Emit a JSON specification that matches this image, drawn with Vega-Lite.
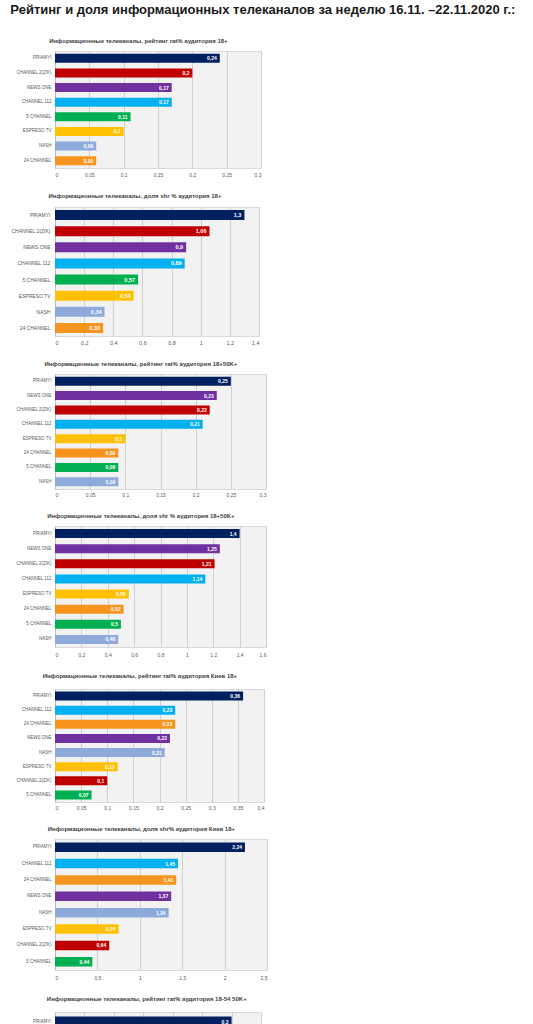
{
  "$schema": "https://vega.github.io/schema/vega-lite/v6.json",
  "background": "white",
  "padding": {"left": 10, "top": 3, "right": 5, "bottom": 5},
  "title": {
    "text": "Рейтинг и доля информационных телеканалов за неделю 16.11. –22.11.2020 г.:",
    "font": "Liberation Sans",
    "fontSize": 13,
    "fontWeight": "bold",
    "color": "#1a1a1a",
    "anchor": "start",
    "offset": 21
  },
  "datasets": {
    "p1": [
      {"channel": "PRIAMYI", "value": 0.24},
      {"channel": "CHANNEL 2(ZIK)", "value": 0.2},
      {"channel": "NEWS ONE", "value": 0.17},
      {"channel": "CHANNEL 112", "value": 0.17},
      {"channel": "5 CHANNEL", "value": 0.11},
      {"channel": "ESPRESO TV", "value": 0.1},
      {"channel": "NASH", "value": 0.06},
      {"channel": "24 CHANNEL", "value": 0.06}
    ],
    "p2": [
      {"channel": "PRIAMYI", "value": 1.3},
      {"channel": "CHANNEL 2(ZIK)", "value": 1.06},
      {"channel": "NEWS ONE", "value": 0.9},
      {"channel": "CHANNEL 112", "value": 0.89},
      {"channel": "5 CHANNEL", "value": 0.57},
      {"channel": "ESPRESO TV", "value": 0.54},
      {"channel": "NASH", "value": 0.34},
      {"channel": "24 CHANNEL", "value": 0.33}
    ],
    "p3": [
      {"channel": "PRIAMYI", "value": 0.25},
      {"channel": "NEWS ONE", "value": 0.23},
      {"channel": "CHANNEL 2(ZIK)", "value": 0.22},
      {"channel": "CHANNEL 112", "value": 0.21},
      {"channel": "ESPRESO TV", "value": 0.1},
      {"channel": "24 CHANNEL", "value": 0.09},
      {"channel": "5 CHANNEL", "value": 0.09},
      {"channel": "NASH", "value": 0.09}
    ],
    "p4": [
      {"channel": "PRIAMYI", "value": 1.4},
      {"channel": "NEWS ONE", "value": 1.25},
      {"channel": "CHANNEL 2(ZIK)", "value": 1.21},
      {"channel": "CHANNEL 112", "value": 1.14},
      {"channel": "ESPRESO TV", "value": 0.56},
      {"channel": "24 CHANNEL", "value": 0.52},
      {"channel": "5 CHANNEL", "value": 0.5},
      {"channel": "NASH", "value": 0.48}
    ],
    "p5": [
      {"channel": "PRIAMYI", "value": 0.36},
      {"channel": "CHANNEL 112", "value": 0.23},
      {"channel": "24 CHANNEL", "value": 0.23},
      {"channel": "NEWS ONE", "value": 0.22},
      {"channel": "NASH", "value": 0.21},
      {"channel": "ESPRESO TV", "value": 0.12},
      {"channel": "CHANNEL 2(ZIK)", "value": 0.1},
      {"channel": "5 CHANNEL", "value": 0.07}
    ],
    "p6": [
      {"channel": "PRIAMYI", "value": 2.24},
      {"channel": "CHANNEL 112", "value": 1.45},
      {"channel": "24 CHANNEL", "value": 1.43},
      {"channel": "NEWS ONE", "value": 1.37},
      {"channel": "NASH", "value": 1.34},
      {"channel": "ESPRESO TV", "value": 0.75},
      {"channel": "CHANNEL 2(ZIK)", "value": 0.64},
      {"channel": "5 CHANNEL", "value": 0.44}
    ],
    "p7": [
      {"channel": "PRIAMYI", "value": 0.3}
    ]
  },
  "columns": 1,
  "align": "none",
  "spacing": 14,
  "concat": [
    {
      "title": {"text": "Информационные телеканалы, рейтинг rat% аудитория 18+", "offset": 7},
      "width": 206,
      "height": 117,
      "data": {"name": "p1"},
      "encoding": {
        "y": {"field": "channel", "type": "nominal", "sort": null, "scale": {"paddingInner": 0.38, "paddingOuter": 0.19}},
        "x": {"field": "value", "type": "quantitative", "scale": {"domain": [0, 0.3]}, "axis": {"values": [0, 0.05, 0.1, 0.15, 0.2, 0.25, 0.3]}}
      },
      "layer": [
        {"mark": "bar", "encoding": {"color": {"field": "channel", "type": "nominal", "legend": null, "scale": {"domain": ["PRIAMYI", "CHANNEL 2(ZIK)", "NEWS ONE", "CHANNEL 112", "5 CHANNEL", "ESPRESO TV", "NASH", "24 CHANNEL"], "range": ["#002060", "#c00000", "#7030a0", "#00b0f0", "#00b050", "#ffc000", "#8eaadb", "#f7941d"]}}}},
        {"mark": {"type": "text", "align": "right", "dx": -3, "color": "white", "fontWeight": "bold", "fontSize": 5}, "encoding": {"text": {"field": "value", "type": "quantitative", "format": "~g"}}}
      ]
    },
    {
      "title": {"text": "Информационные телеканалы, доля shr % аудитория 18+", "offset": 8},
      "width": 204,
      "height": 129,
      "data": {"name": "p2"},
      "encoding": {
        "y": {"field": "channel", "type": "nominal", "sort": null, "scale": {"paddingInner": 0.38, "paddingOuter": 0.19}, "axis": {"labelFontSize": 5, "labelPadding": 5}},
        "x": {"field": "value", "type": "quantitative", "scale": {"domain": [0, 1.4]}, "axis": {"values": [0, 0.2, 0.4, 0.6, 0.8, 1, 1.2, 1.4], "labelFontSize": 5.5}}
      },
      "layer": [
        {"mark": "bar", "encoding": {"color": {"field": "channel", "type": "nominal", "legend": null, "scale": {"domain": ["PRIAMYI", "CHANNEL 2(ZIK)", "NEWS ONE", "CHANNEL 112", "5 CHANNEL", "ESPRESO TV", "NASH", "24 CHANNEL"], "range": ["#002060", "#c00000", "#7030a0", "#00b0f0", "#00b050", "#ffc000", "#8eaadb", "#f7941d"]}}}},
        {"mark": {"type": "text", "align": "right", "dx": -3, "color": "white", "fontWeight": "bold", "fontSize": 5.5}, "encoding": {"text": {"field": "value", "type": "quantitative", "format": "~g"}}}
      ]
    },
    {
      "title": {"text": "Информационные телеканалы, рейтинг rat% аудитория 18+50K+", "offset": 7},
      "width": 211,
      "height": 115,
      "data": {"name": "p3"},
      "encoding": {
        "y": {"field": "channel", "type": "nominal", "sort": null, "scale": {"paddingInner": 0.375, "paddingOuter": 0.19}},
        "x": {"field": "value", "type": "quantitative", "scale": {"domain": [0, 0.3]}, "axis": {"values": [0, 0.05, 0.1, 0.15, 0.2, 0.25, 0.3], "labelPadding": 3}}
      },
      "layer": [
        {"mark": "bar", "encoding": {"color": {"field": "channel", "type": "nominal", "legend": null, "scale": {"domain": ["PRIAMYI", "CHANNEL 2(ZIK)", "NEWS ONE", "CHANNEL 112", "5 CHANNEL", "ESPRESO TV", "NASH", "24 CHANNEL"], "range": ["#002060", "#c00000", "#7030a0", "#00b0f0", "#00b050", "#ffc000", "#8eaadb", "#f7941d"]}}}},
        {"mark": {"type": "text", "align": "right", "dx": -3, "color": "white", "fontWeight": "bold", "fontSize": 5}, "encoding": {"text": {"field": "value", "type": "quantitative", "format": "~g"}}}
      ]
    },
    {
      "title": {"text": "Информационные телеканалы, доля shr % аудитория 18+50K+", "offset": 7},
      "width": 211,
      "height": 121,
      "data": {"name": "p4"},
      "encoding": {
        "y": {"field": "channel", "type": "nominal", "sort": null, "scale": {"paddingInner": 0.4, "paddingOuter": 0.2}},
        "x": {"field": "value", "type": "quantitative", "scale": {"domain": [0, 1.6]}, "axis": {"values": [0, 0.2, 0.4, 0.6, 0.8, 1, 1.2, 1.4, 1.6], "labelPadding": 5}}
      },
      "layer": [
        {"mark": "bar", "encoding": {"color": {"field": "channel", "type": "nominal", "legend": null, "scale": {"domain": ["PRIAMYI", "CHANNEL 2(ZIK)", "NEWS ONE", "CHANNEL 112", "5 CHANNEL", "ESPRESO TV", "NASH", "24 CHANNEL"], "range": ["#002060", "#c00000", "#7030a0", "#00b0f0", "#00b050", "#ffc000", "#8eaadb", "#f7941d"]}}}},
        {"mark": {"type": "text", "align": "right", "dx": -3, "color": "white", "fontWeight": "bold", "fontSize": 5}, "encoding": {"text": {"field": "value", "type": "quantitative", "format": "~g"}}}
      ]
    },
    {
      "title": {"text": "Информационные телеканалы, рейтинг rat% аудитория Киев 18+", "offset": 10},
      "width": 209,
      "height": 113,
      "data": {"name": "p5"},
      "encoding": {
        "y": {"field": "channel", "type": "nominal", "sort": null, "scale": {"paddingInner": 0.37, "paddingOuter": 0.185}},
        "x": {"field": "value", "type": "quantitative", "scale": {"domain": [0, 0.4]}, "axis": {"values": [0, 0.05, 0.1, 0.15, 0.2, 0.25, 0.3, 0.35, 0.4], "labelPadding": 3}}
      },
      "layer": [
        {"mark": "bar", "encoding": {"color": {"field": "channel", "type": "nominal", "legend": null, "scale": {"domain": ["PRIAMYI", "CHANNEL 2(ZIK)", "NEWS ONE", "CHANNEL 112", "5 CHANNEL", "ESPRESO TV", "NASH", "24 CHANNEL"], "range": ["#002060", "#c00000", "#7030a0", "#00b0f0", "#00b050", "#ffc000", "#8eaadb", "#f7941d"]}}}},
        {"mark": {"type": "text", "align": "right", "dx": -3, "color": "white", "fontWeight": "bold", "fontSize": 5}, "encoding": {"text": {"field": "value", "type": "quantitative", "format": "~g"}}}
      ]
    },
    {
      "title": {"text": "Информационные телеканалы, доля shr% аудитория Киев 18+", "offset": 7},
      "width": 212,
      "height": 131,
      "data": {"name": "p6"},
      "encoding": {
        "y": {"field": "channel", "type": "nominal", "sort": null, "scale": {"paddingInner": 0.42, "paddingOuter": 0.21}},
        "x": {"field": "value", "type": "quantitative", "scale": {"domain": [0, 2.5]}, "axis": {"values": [0, 0.5, 1, 1.5, 2, 2.5], "labelPadding": 5}}
      },
      "layer": [
        {"mark": "bar", "encoding": {"color": {"field": "channel", "type": "nominal", "legend": null, "scale": {"domain": ["PRIAMYI", "CHANNEL 2(ZIK)", "NEWS ONE", "CHANNEL 112", "5 CHANNEL", "ESPRESO TV", "NASH", "24 CHANNEL"], "range": ["#002060", "#c00000", "#7030a0", "#00b0f0", "#00b050", "#ffc000", "#8eaadb", "#f7941d"]}}}},
        {"mark": {"type": "text", "align": "right", "dx": -3, "color": "white", "fontWeight": "bold", "fontSize": 5}, "encoding": {"text": {"field": "value", "type": "quantitative", "format": "~g"}}}
      ]
    },
    {
      "title": {"text": "Информационные телеканалы, рейтинг rat% аудитория 18-54 50K+", "offset": 10},
      "width": 206,
      "height": 19,
      "data": {"name": "p7"},
      "encoding": {
        "y": {"field": "channel", "type": "nominal", "sort": null, "scale": {"paddingInner": 0.5, "paddingOuter": 0.225}},
        "x": {"field": "value", "type": "quantitative", "scale": {"domain": [0, 0.35]}, "axis": {"values": [0, 0.05, 0.1, 0.15, 0.2, 0.25, 0.3, 0.35], "labels": false}}
      },
      "layer": [
        {"mark": "bar", "encoding": {"color": {"field": "channel", "type": "nominal", "legend": null, "scale": {"domain": ["PRIAMYI", "CHANNEL 2(ZIK)", "NEWS ONE", "CHANNEL 112", "5 CHANNEL", "ESPRESO TV", "NASH", "24 CHANNEL"], "range": ["#002060", "#c00000", "#7030a0", "#00b0f0", "#00b050", "#ffc000", "#8eaadb", "#f7941d"]}}}},
        {"mark": {"type": "text", "align": "right", "dx": -3, "color": "white", "fontWeight": "bold", "fontSize": 5}, "encoding": {"text": {"field": "value", "type": "quantitative", "format": "~g"}}}
      ]
    }
  ],
  "config": {
    "font": "Liberation Sans",
    "locale": {"number": {"decimal": ",", "thousands": " ", "grouping": [3], "currency": ["", ""]}},
    "view": {"fill": "#f2f2f2", "stroke": "#d9d9d9"},
    "title": {"fontSize": 6, "fontWeight": "bold", "color": "#404040", "anchor": "middle", "frame": "bounds"},
    "axisX": {"grid": true, "gridColor": "#d0d0d0", "domain": false, "ticks": false, "labelFontSize": 5, "labelColor": "#595959", "labelPadding": 4, "format": "~g", "title": null},
    "axisY": {"grid": false, "domainColor": "#bfbfbf", "ticks": false, "labelFontSize": 4.5, "labelColor": "#595959", "labelPadding": 4, "title": null}
  }
}
